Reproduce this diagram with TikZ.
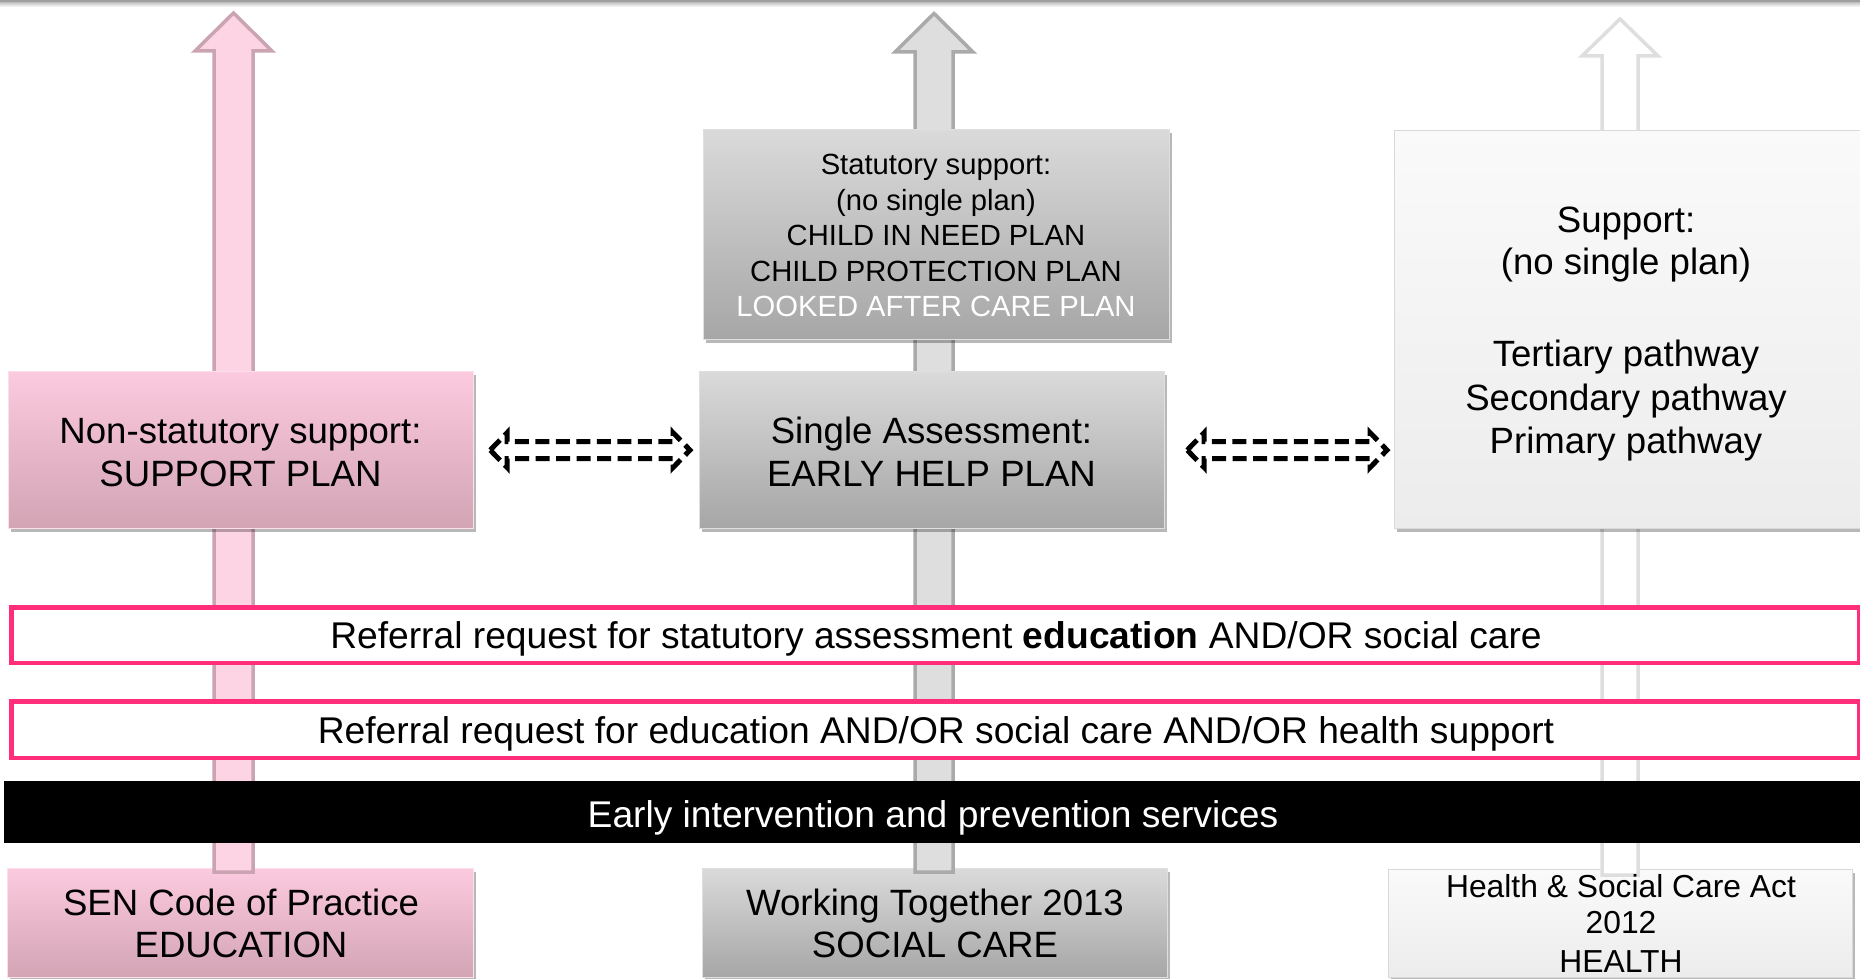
\documentclass[tikz,border=0pt]{standalone}
\usepackage{fontspec}
\setmainfont{Liberation Sans}
\usetikzlibrary{shadows,calc}
\definecolor{pinkTop}{RGB}{252,202,222}
\definecolor{pinkBot}{RGB}{210,164,180}
\definecolor{grayTop}{RGB}{218,218,218}
\definecolor{grayBot}{RGB}{166,166,166}
\definecolor{lightTop}{RGB}{250,250,250}
\definecolor{lightBot}{RGB}{236,236,236}
\definecolor{pArrFill}{RGB}{253,212,228}
\definecolor{pArrDraw}{RGB}{203,164,178}
\definecolor{gArrFill}{RGB}{222,222,222}
\definecolor{gArrDraw}{RGB}{170,170,170}
\definecolor{lArrDraw}{RGB}{222,222,222}
\definecolor{refPink}{RGB}{255,45,122}
\begin{document}
\begin{tikzpicture}[x=1pt,y=-1pt,
  boxbase/.style={anchor=north west, inner sep=0pt, line width=1.2pt,
    drop shadow={shadow xshift=2.5pt, shadow yshift=-3pt, opacity=0.28, fill=black}},
  pinkbox/.style={boxbase, top color=pinkTop, bottom color=pinkBot, draw=pinkTop!60!white},
  graybox/.style={boxbase, top color=grayTop, bottom color=grayBot, draw=gray!25},
  lightbox/.style={boxbase, top color=lightTop, bottom color=lightBot, draw=gray!30},
  refbox/.style={anchor=north west, inner sep=0pt, draw=refPink, fill=white, line width=4.5pt},
  parrow/.style={fill=pArrFill, draw=pArrDraw, line width=3.5pt, line join=miter},
  garrow/.style={fill=gArrFill, draw=gArrDraw, line width=3.5pt, line join=miter},
  larrow/.style={fill=white, draw=lArrDraw, line width=3.5pt, line join=miter},
  dasharrow/.style={draw=black, line width=5pt, dash pattern=on 14pt off 6.5pt, line join=miter},
  tbig/.style={anchor=base, inner sep=0pt, font=\fontsize{36.6}{43}\selectfont},
  tref/.style={anchor=base, inner sep=0pt, font=\fontsize{37.2}{43}\selectfont},
  tstat/.style={anchor=base, inner sep=0pt, font=\fontsize{29.2}{35}\selectfont},
  thl/.style={anchor=base, inner sep=0pt, font=\fontsize{31.8}{37}\selectfont}]
\useasboundingbox (0,0) rectangle (1860,979);
\clip (0,0) rectangle (1860,979);
\fill[white] (0,0) rectangle (1860,979);
% top rule
\fill[gray!75] (0,0) rectangle (1860,2.5);
\shade[top color=gray!45, bottom color=white] (0,2.5) rectangle (1860,7);

% bottom boxes
\node[pinkbox, minimum width=466, minimum height=109] (sen) at (7,868) {};
\node[graybox, minimum width=465, minimum height=109] (wt) at (702,868) {};
\node[lightbox, minimum width=464, minimum height=108] (hl) at (1388,869) {};

% block arrows
\draw[parrow] (214,872) -- (214,51) -- (195,51) -- (233.5,13) -- (272,51) -- (253,51) -- (253,872) -- cycle;
\draw[garrow] (915,872) -- (915,52) -- (895,52) -- (934,13.5) -- (973,52) -- (953,52) -- (953,872) -- cycle;
\draw[larrow] (1602,875) -- (1602,56) -- (1582,56) -- (1620,19) -- (1658,56) -- (1638,56) -- (1638,875) -- cycle;

% middle boxes
\node[pinkbox, minimum width=465, minimum height=157] (ns) at (8,371) {};
\node[graybox, minimum width=465, minimum height=157] (sa) at (699,371) {};
\node[graybox, minimum width=466, minimum height=210] (st) at (703,129) {};
\node[lightbox, minimum width=466, minimum height=398] (sp) at (1394,130) {};

% referral boxes and bar
\node[refbox, minimum width=1847.5, minimum height=55.5] (r1) at (9.25,605.25) {};
\node[refbox, minimum width=1847.5, minimum height=56.5] (r2) at (9.25,699.25) {};
\node[anchor=north west, inner sep=0pt, fill=black, minimum width=1856, minimum height=62] (bar) at (4,781) {};

% dashed double arrows
\coordinate (d1l) at ($(ns.east)+(16,0)$);
\coordinate (d1r) at ($(sa.west)+(-9,0)$);
\draw[dasharrow] (d1l) -- ++(17,-17.5) -- ++(0,9) -- ($(d1r)+(-17,-8.5)$) -- ++(0,-9) -- (d1r)
  -- ++(-17,17.5) -- ++(0,-9) -- ($(d1l)+(17,8.5)$) -- ++(0,9) -- cycle;
\coordinate (d2l) at ($(sa.east)+(22,0)$);
\coordinate (d2r) at ($(sp.west |- sa.east)+(-7,0)$);
\draw[dasharrow] (d2l) -- ++(17,-17.5) -- ++(0,9) -- ($(d2r)+(-17,-8.5)$) -- ++(0,-9) -- (d2r)
  -- ++(-17,17.5) -- ++(0,-9) -- ($(d2l)+(17,8.5)$) -- ++(0,9) -- cycle;

% texts
\node[tbig] (ns1) at (240.5,443) {Non-statutory support:};
\node[tbig] (ns2) at (240.5,486) {SUPPORT PLAN};
\node[tbig] (sa1) at (931.5,443) {Single Assessment:};
\node[tbig] (sa2) at (931.5,486) {EARLY HELP PLAN};
\node[tstat] (st1) at (936,175) {Statutory support:};
\node[tstat] (st2) at (936,210) {(no single plan)};
\node[tstat] (st3) at (936,245) {CHILD IN NEED PLAN};
\node[tstat] (st4) at (936,281) {CHILD PROTECTION PLAN};
\node[tstat, text=white] (st5) at (936,316) {LOOKED AFTER CARE PLAN};
\node[tbig] (sp1) at (1626,232) {Support:};
\node[tbig] (sp2) at (1626,274) {(no single plan)};
\node[tbig] (sp3) at (1626,366) {Tertiary pathway};
\node[tbig] (sp4) at (1626,410) {Secondary pathway};
\node[tbig] (sp5) at (1626,453) {Primary pathway};
\node[tref] (r1t) at (936,648) {Referral request for statutory assessment \textbf{education} AND/OR social care};
\node[tref] (r2t) at (936,743) {Referral request for education AND/OR social care AND/OR health support};
\node[tref, text=white] (bart) at (933,827) {Early intervention and prevention services};
\node[tbig] (sen1) at (241,915) {SEN Code of Practice};
\node[tbig] (sen2) at (241,957) {EDUCATION};
\node[tbig] (wt1) at (935,915) {Working Together 2013};
\node[tbig] (wt2) at (935,957) {SOCIAL CARE};
\node[thl] (hl1) at (1621,897) {Health \& Social Care Act};
\node[thl] (hl2) at (1621,933) {2012};
\node[thl] (hl3) at (1621,972) {HEALTH};
\end{tikzpicture}
\end{document}
